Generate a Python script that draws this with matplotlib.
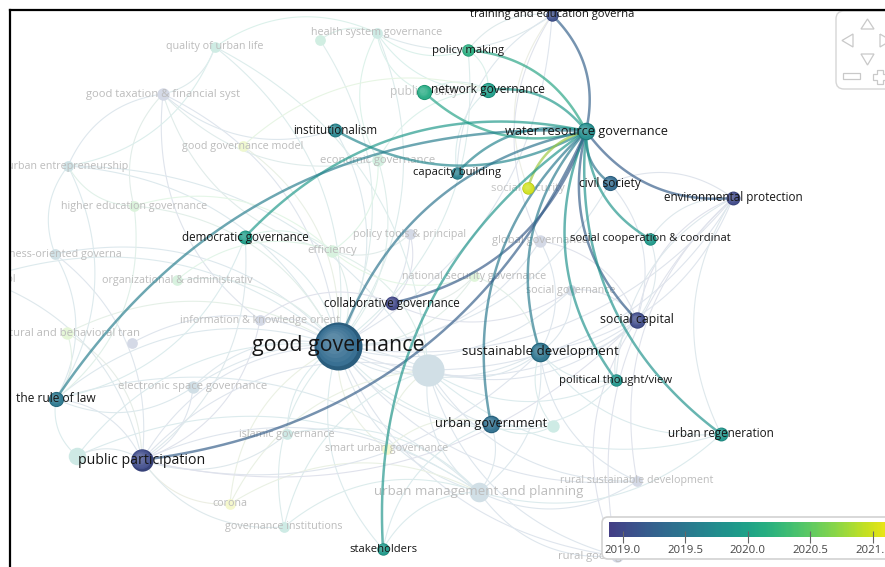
import matplotlib
matplotlib.use('Agg')
import matplotlib.pyplot as plt
import numpy as np
from matplotlib.colors import LinearSegmentedColormap, Normalize
from matplotlib.patches import FancyBboxPatch, Polygon
from matplotlib.lines import Line2D
import matplotlib.colorbar as mcolorbar

plt.rcParams['font.family'] = ['Open Sans', 'DejaVu Sans']

# term map (screen layout units), occurrences and average publication year
terms = ['water resource governance', 'training and education governa', 'policy making',
         'network governance', 'public policy', 'institutionalism', 'capacity building',
         'social security', 'civil society', 'environmental protection',
         'social cooperation & coordinat', 'democratic governance', 'collaborative governance',
         'social capital', 'good governance', 'sustainable development', 'political thought/view',
         'the rule of law', 'urban government', 'urban regeneration', 'public participation',
         'stakeholders',
         'quality of urban life', 'health system governance', 'health policy',
         'good taxation & financial syst', 'good governance model', 'economic governance',
         'urban entrepreneurship', 'higher education governance', 'policy tools & principal',
         'efficiency', 'business-oriented governa', 'social control',
         'organizational & administrativ', 'global governance', 'national security governance',
         'social governance', 'information & knowledge orient', 'cultural and behavioral tran',
         'social justice', 'urban governance', 'electronic space governance', 'islamic governance',
         'smart urban governance', 'participatory governance', 'urban management and planning',
         'rural sustainable development', 'corona', 'governance institutions',
         'rural good governance', 'e-government']
map_x = [586, 552, 468, 488, 424, 335, 457, 528, 610, 733, 650, 245, 392, 637, 338, 540, 616,
         56, 491, 721, 142, 383,
         215, 377, 320, 163, 243, 378, 68, 134, 410, 332, 55, -18, 177, 540, 474, 571, 260, 67,
         132, 428, 193, 287, 387, 77, 479, 637, 230, 284, 617, 553]
map_y = [131, 15, 50, 90, 92, 130, 173, 188, 183, 198, 239, 237, 303, 320, 346, 352, 380,
         399, 424, 434, 460, 549,
         47, 33, 40, 94, 146, 160, 166, 206, 234, 251, 254, 279, 280, 241, 276, 290, 320, 333,
         343, 370, 387, 434, 449, 456, 492, 481, 504, 527, 556, 426]
occurrences = [8, 4, 4, 6, 6, 5, 4, 4, 6, 5, 4, 5, 5, 7, 60, 10, 4, 6, 8, 5, 13, 4,
               3, 3, 3, 4, 3, 4, 3, 3, 3, 4, 3, 3, 3, 4, 3, 3, 3, 4,
               3, 27, 4, 3, 3, 8, 10, 3, 3, 3, 4, 4]
avg_year = [2019.75, 2019.05, 2020.15, 2019.95, 2020.1, 2019.65, 2019.6, 2021.0, 2019.35,
            2019.0, 2019.9, 2019.95, 2018.98, 2019.02, 2019.35, 2019.45, 2019.85, 2019.5,
            2019.4, 2019.85, 2019.02, 2019.9,
            2020.1, 2020.0, 2020.2, 2019.1, 2020.9, 2020.3, 2019.6, 2020.5, 2019.1, 2020.4,
            2019.5, 2019.8, 2020.4, 2019.1, 2020.6, 2019.2, 2019.1, 2020.7,
            2019.1, 2019.4, 2019.4, 2019.9, 2021.0, 2019.9, 2019.4, 2019.1, 2021.0, 2020.0,
            2019.1, 2020.0]

focus = 'water resource governance'
# (source, target): arcs bend the same way going from source to target
focus_links = [(focus, 'training and education governa'), (focus, 'policy making'),
               (focus, 'network governance'), ('public policy', focus),
               ('institutionalism', focus), (focus, 'capacity building'),
               (focus, 'social security'), (focus, 'civil society'),
               (focus, 'environmental protection'), (focus, 'social cooperation & coordinat'),
               (focus, 'democratic governance'), ('collaborative governance', focus),
               (focus, 'social capital'), (focus, 'good governance'),
               (focus, 'sustainable development'), (focus, 'political thought/view'),
               (focus, 'the rule of law'), (focus, 'urban government'),
               (focus, 'urban regeneration'), ('public participation', focus),
               (focus, 'stakeholders')]

other_links = {
    'good governance': ['quality of urban life', 'health system governance',
                        'good taxation & financial syst', 'good governance model',
                        'economic governance', 'urban entrepreneurship',
                        'higher education governance', 'policy tools & principal', 'efficiency',
                        'business-oriented governa', 'organizational & administrativ',
                        'global governance', 'national security governance', 'social governance',
                        'information & knowledge orient', 'cultural and behavioral tran',
                        'urban governance', 'electronic space governance', 'islamic governance',
                        'smart urban governance', 'urban management and planning',
                        'rural sustainable development', 'corona', 'governance institutions',
                        'rural good governance', 'the rule of law', 'public participation',
                        'democratic governance', 'sustainable development', 'urban government',
                        'social capital', 'institutionalism', 'policy making', 'civil society',
                        'environmental protection', 'stakeholders',
                        'training and education governa', 'social control', 'health policy',
                        'e-government', 'participatory governance', 'social justice'],
    'urban governance': ['urban management and planning', 'public participation',
                         'sustainable development', 'urban government', 'smart urban governance',
                         'rural good governance', 'rural sustainable development',
                         'social capital', 'urban regeneration', 'electronic space governance',
                         'governance institutions', 'efficiency', 'quality of urban life',
                         'urban entrepreneurship', 'environmental protection',
                         'political thought/view', 'corona'],
    'urban management and planning': ['public participation', 'urban government',
                                      'rural good governance', 'rural sustainable development',
                                      'sustainable development', 'governance institutions',
                                      'corona', 'islamic governance', 'stakeholders',
                                      'participatory governance', 'urban regeneration',
                                      'the rule of law'],
    'public participation': ['the rule of law', 'participatory governance',
                             'electronic space governance', 'islamic governance', 'corona',
                             'governance institutions', 'cultural and behavioral tran',
                             'business-oriented governa', 'social control',
                             'information & knowledge orient', 'democratic governance',
                             'sustainable development', 'social capital'],
    'sustainable development': ['social capital', 'environmental protection',
                                'rural sustainable development', 'political thought/view',
                                'urban regeneration', 'social governance', 'global governance',
                                'national security governance', 'e-government'],
    'good taxation & financial syst': ['quality of urban life', 'urban entrepreneurship',
                                       'higher education governance', 'efficiency',
                                       'economic governance', 'information & knowledge orient',
                                       'institutionalism'],
    'environmental protection': ['social capital', 'social cooperation & coordinat',
                                 'political thought/view', 'rural sustainable development',
                                 'urban regeneration', 'civil society', 'rural good governance'],
    'health system governance': ['health policy', 'quality of urban life', 'economic governance',
                                 'policy making', 'network governance', 'public policy',
                                 'training and education governa'],
    'the rule of law': ['business-oriented governa', 'cultural and behavioral tran',
                        'urban entrepreneurship', 'higher education governance',
                        'participatory governance', 'democratic governance',
                        'electronic space governance'],
    'efficiency': ['economic governance', 'higher education governance',
                   'organizational & administrativ', 'policy tools & principal',
                   'democratic governance', 'national security governance'],
    'urban entrepreneurship': ['business-oriented governa', 'higher education governance',
                               'quality of urban life'],
    'social capital': ['social governance', 'civil society', 'political thought/view',
                       'social cooperation & coordinat', 'global governance',
                       'rural good governance'],
    'training and education governa': ['policy making', 'social security', 'global governance',
                                       'capacity building'],
    'network governance': ['public policy', 'policy making', 'economic governance',
                           'good governance model', 'capacity building'],
    'collaborative governance': ['national security governance', 'policy tools & principal',
                                 'information & knowledge orient', 'social governance'],
    'urban government': ['e-government', 'stakeholders', 'smart urban governance',
                         'political thought/view'],
}

hidden_labels = ['health policy', 'social justice', 'urban governance',
                 'participatory governance', 'e-government']
dim_labels = ['social security', 'public policy']

year_ticks = [2019.0, 2019.5, 2020.0, 2020.5, 2021.0]
year_min, year_max = 2018.89, 2021.2

W, H = 885, 567
fig = plt.figure(figsize=(W / 100, H / 100), dpi=100)
fig.patch.set_facecolor('white')
ax = fig.add_axes([10 / W, 0, (W - 10) / W, (H - 10) / H])
ax.set_xlim(10, W)
ax.set_ylim(H, 10)
ax.axis('off')

cmap = LinearSegmentedColormap.from_list('vos', plt.cm.viridis(np.linspace(0.18, 1.0, 256)))
norm = Normalize(year_min, year_max)

pos = {t: np.array([x, y], float) for t, x, y in zip(terms, map_x, map_y)}
year = dict(zip(terms, avg_year))
occ = dict(zip(terms, occurrences))
highlighted = {t for pair in focus_links for t in pair}


def radius(t):
    return 3.1 * np.sqrt(occ[t])


def label_size(t):
    return 5.55 + 0.41 * radius(t)


def arc(a, b, k=0.28, n=60):
    p0, p1 = pos[a], pos[b]
    d = p1 - p0
    c = (p0 + p1) / 2 + k * np.array([-d[1], d[0]])
    s = np.linspace(0, 1, n)[:, None]
    pts = (1 - s) ** 2 * p0 + 2 * (1 - s) * s * c + s ** 2 * p1
    return pts[:, 0], pts[:, 1]


def fade(rgb, a):
    return tuple(1 - (1 - np.asarray(rgb[:3])) * a)


def term_color(t):
    return np.array(cmap(norm(year[t]))[:3])


# faint background links
for src, targets in other_links.items():
    for tgt in targets:
        xs, ys = arc(src, tgt)
        c = (term_color(src) + term_color(tgt)) / 2
        ax.plot(xs, ys, color=fade(c, 0.16), lw=0.8, zorder=1, solid_capstyle='round')

# faded nodes and labels
for t in terms:
    if t in highlighted:
        continue
    r = radius(t)
    x, y = pos[t]
    ax.scatter([x], [y], s=(2 * r * 0.72) ** 2, color=[fade(term_color(t), 0.22)],
               linewidths=0, zorder=2)
    if t not in hidden_labels:
        ax.text(x, y, t, fontsize=label_size(t), color='#bcbcbc', ha='center', va='center',
                zorder=3, clip_on=True)

# links of the selected term
for src, tgt in focus_links:
    other = tgt if src == focus else src
    xs, ys = arc(src, tgt)
    c = 0.7 * term_color(other) + 0.3 * term_color(focus)
    ax.plot(xs, ys, color=c, alpha=0.68, lw=1.8, zorder=4, solid_capstyle='round')

# dimmed labels of linked terms sit under the links and nodes
for t in dim_labels:
    x, y = pos[t]
    ax.text(x, y, t, fontsize=label_size(t), color='#c4c4c4', ha='center', va='center',
            zorder=3, clip_on=True)

# highlighted nodes with a little shading
for t in highlighted:
    r = radius(t)
    x, y = pos[t]
    base = term_color(t)
    for i, f in enumerate(np.linspace(1.0, 0.35, 6)):
        if i == 0:
            shade = base * 0.88
        else:
            shade = base + (1 - base) * 0.22 * i / 5
        off = (1 - f) * r * 0.35
        ax.scatter([x - off], [y - off], s=(2 * r * f * 0.72) ** 2, color=[np.clip(shade, 0, 1)],
                   linewidths=0, zorder=5)
    if t not in dim_labels:
        ax.text(x, y, t, fontsize=label_size(t), color='#161616', ha='center', va='center',
                zorder=6, clip_on=True)

# navigation control
ax.add_patch(FancyBboxPatch((836, 11), 70, 78, boxstyle='round,pad=0,rounding_size=8',
                            facecolor='white', edgecolor='#d6d6d6', lw=1.0, zorder=10))
nav = [[(861, 29), (874, 29), (867.5, 19)], [(842, 40.5), (853, 34), (853, 47)],
       [(880, 34), (880, 47), (891, 40.5)], [(861, 54), (874, 54), (867.5, 65)],
       [(843, 73), (860, 73), (860, 79), (843, 79)],
       [(877, 70), (883, 70), (883, 74), (887, 74), (887, 80), (883, 80), (883, 84),
        (877, 84), (877, 80), (873, 80), (873, 74), (877, 74)]]
for verts in nav:
    ax.add_patch(Polygon(verts, closed=True, facecolor='none', edgecolor='#c9c9c9',
                         lw=0.9, zorder=11))

# legend box for the colour scale
ax.add_patch(FancyBboxPatch((602, 517), 320, 42, boxstyle='round,pad=0,rounding_size=6',
                            facecolor='white', edgecolor='#d2d2d2', lw=1.2, zorder=10))
bar_left, bar_right = 609, 898
cax = fig.add_axes([bar_left / W, (H - 537) / H, (bar_right - bar_left) / W, 15 / H])
cb = mcolorbar.ColorbarBase(cax, cmap=cmap, norm=norm, orientation='horizontal')
cb.outline.set_visible(False)
cb.set_ticks(year_ticks)
cb.set_ticklabels([f'{v:.1f}' for v in year_ticks])
cax.tick_params(axis='x', direction='inout', length=8, width=0.8, color='#666666',
                labelsize=8.2, labelcolor='#444444', pad=1.5)

# screenshot frame
fig.add_artist(Line2D([9.5 / W, 1], [1 - 9.5 / H, 1 - 9.5 / H], color='black', lw=1.6))
fig.add_artist(Line2D([9.5 / W, 9.5 / W], [0, 1 - 9.5 / H], color='black', lw=1.6))

fig.savefig('out.png', dpi=100, facecolor='white')
